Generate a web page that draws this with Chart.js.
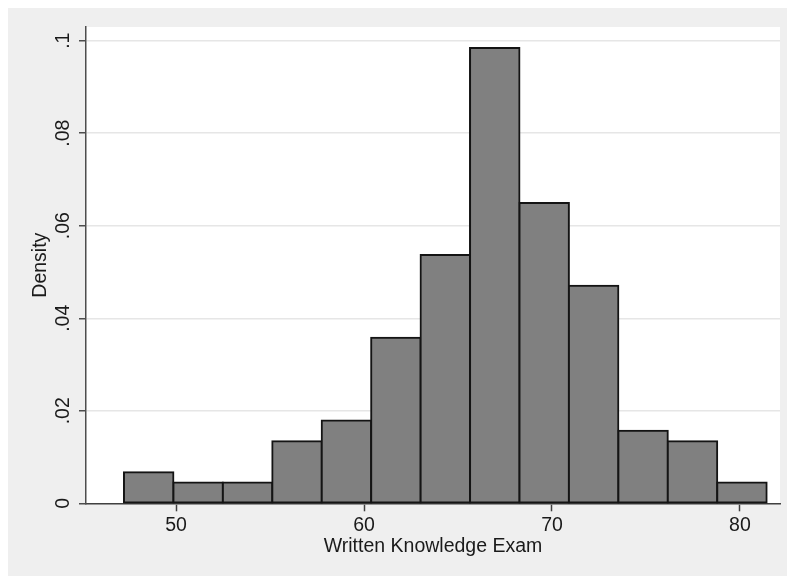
<!DOCTYPE html>
<html>
<head>
<meta charset="utf-8">
<script src="https://cdn.jsdelivr.net/npm/chart.js@4/dist/chart.umd.min.js"></script>
<style>
  html, body { margin: 0; padding: 0; background: #efefef; overflow: hidden; }
  canvas { display: block; }
</style>
</head>
<body>
<canvas id="c" width="787" height="576"></canvas>
<script>
// ---- data ----
const binEdges = [47.23, 49.86, 52.49, 55.12, 57.75, 60.38, 63.01, 65.64, 68.27, 70.90, 73.53, 76.16, 78.79, 81.42];
const density  = [0.0067, 0.0045, 0.0045, 0.0134, 0.0179, 0.0358, 0.0537, 0.0984, 0.0649, 0.0470, 0.0157, 0.0134, 0.0045];
const xTicks   = [50, 60, 70, 80];
const yTicks   = [0, 0.02, 0.04, 0.06, 0.08, 0.1];
const yLabels  = ['0', '.02', '.04', '.06', '.08', '.1'];
const xTitle   = 'Written Knowledge Exam';
const yTitle   = 'Density';

const FONT = 'Liberation Sans, Arial, Helvetica, sans-serif';
const points = density.map((d, i) => ({ x: (binEdges[i] + binEdges[i + 1]) / 2, y: d }));

const bgPlugin = {
  id: 'bg',
  beforeDraw(chart) {
    const ctx = chart.ctx;
    const a = chart.chartArea;
    ctx.save();
    ctx.fillStyle = '#ffffff';
    ctx.fillRect(0, 0, chart.width, chart.height);
    ctx.fillStyle = '#efefef';
    ctx.fillRect(8, 8, chart.width - 8, chart.height - 8);
    ctx.fillStyle = '#ffffff';
    ctx.fillRect(a.left, a.top, a.right - a.left, a.bottom - a.top);
    ctx.restore();
  }
};

new Chart(document.getElementById('c'), {
  type: 'bar',
  data: {
    datasets: [{
      data: points,
      backgroundColor: '#808080',
      borderColor: '#141414',
      borderWidth: 2,
      borderSkipped: false,
      inflateAmount: 1,
      barPercentage: 1,
      categoryPercentage: 1,
      clip: false
    }]
  },
  options: {
    responsive: false,
    animation: false,
    devicePixelRatio: 1,
    layout: { padding: { top: 27, right: 7, left: 0, bottom: 0 } },
    plugins: { legend: { display: false }, tooltip: { enabled: false } },
    scales: {
      x: {
        type: 'linear',
        min: 45.21,
        max: 82.13,
        offset: false,
        afterBuildTicks: (s) => { s.ticks = xTicks.map(v => ({ value: v })); },
        afterFit: (s) => { s.height = 72.7; },
        grid: { display: true, offset: false, drawOnChartArea: false, drawTicks: true, tickLength: 8, tickColor: '#404040', tickWidth: 1.5 },
        border: { display: true, color: '#404040', width: 1.5 },
        ticks: {
          padding: 2.5,
          maxRotation: 0,
          autoSkip: false,
          color: '#1a1a1a',
          font: { family: FONT, size: 19.5 },
          callback: (v) => String(v)
        },
        title: {
          display: true,
          text: xTitle,
          color: '#1a1a1a',
          font: { family: FONT, size: 19.5 },
          padding: { top: 0, bottom: 18 }
        }
      },
      y: {
        min: 0,
        max: 0.10296,
        afterBuildTicks: (s) => { s.ticks = yTicks.map(v => ({ value: v })); },
        afterFit: (s) => { s.width = 86; },
        grid: { display: true, drawOnChartArea: true, color: '#e6e6e6', lineWidth: 1.5, drawTicks: true, tickLength: 7, tickColor: '#4d4d4d', tickWidth: 1.5 },
        border: { display: true, color: '#4d4d4d', width: 1.5 },
        ticks: {
          padding: 2,
          minRotation: 90,
          maxRotation: 90,
          crossAlign: 'center',
          autoSkip: false,
          color: '#1a1a1a',
          font: { family: FONT, size: 19.5 },
          callback: (v) => { const i = yTicks.indexOf(v); return i >= 0 ? yLabels[i] : ''; }
        },
        title: {
          display: true,
          text: yTitle,
          color: '#1a1a1a',
          font: { family: FONT, size: 19.5 },
          padding: { top: 29, bottom: 0 }
        }
      }
    }
  },
  plugins: [bgPlugin]
});
</script>
</body>
</html>
